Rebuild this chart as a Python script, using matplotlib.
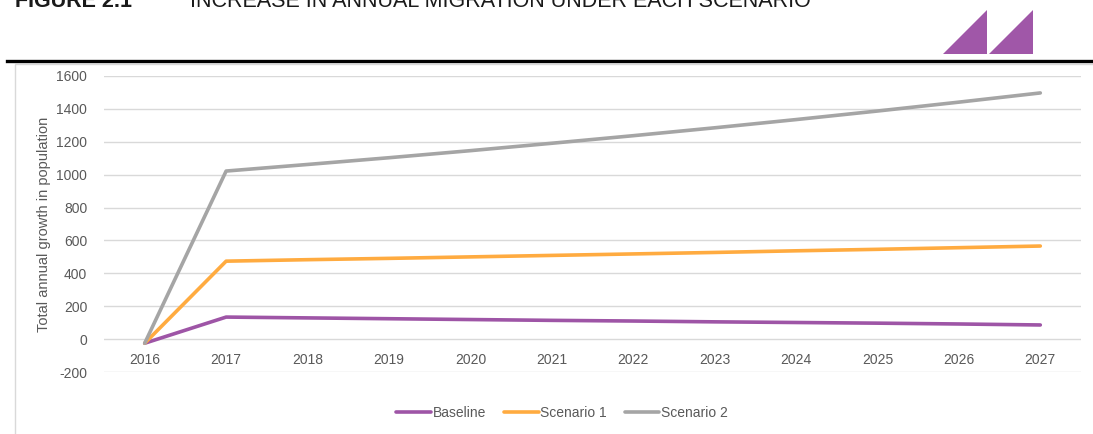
import matplotlib
matplotlib.use("Agg")
import matplotlib.pyplot as plt
from matplotlib.patches import Rectangle, Polygon
from matplotlib.lines import Line2D

plt.rcParams['font.family'] = ['Liberation Sans', 'DejaVu Sans']
plt.rcParams['axes.unicode_minus'] = False

# data
years = [2016, 2017, 2018, 2019, 2020, 2021, 2022, 2023, 2024, 2025, 2026, 2027]
baseline = [-25, 134, 129, 124, 119, 114, 110, 105, 101, 97, 92, 86]
scenario1 = [-25, 474, 483, 491, 500, 509, 518, 527, 537, 546, 556, 566]
scenario2 = [-25, 1022, 1062, 1103, 1146, 1191, 1237, 1285, 1335, 1387, 1441, 1497]
series_names = ['Baseline', 'Scenario 1', 'Scenario 2']
colors = ['#9E55A6', '#FFAB40', '#A5A5A5']

W, H = 1093, 434
fig = plt.figure(figsize=(W / 100, H / 100), dpi=100)

def fx(px):
    return px / W

def fy(py):
    return 1 - py / H

# header
fig.text(fx(15), fy(7), 'FIGURE 2.1', fontsize=15.5, fontweight='bold', color='#1a1a1a', va='baseline')
fig.text(fx(190), fy(7), 'INCREASE IN ANNUAL MIGRATION UNDER EACH SCENARIO', fontsize=15.5,
         color='#1a1a1a', va='baseline')
fig.add_artist(Line2D([fx(7), 1], [fy(61), fy(61)], color='black', lw=2.4))

# logo: two purple triangles
for x0 in (943, 989):
    fig.add_artist(Polygon([(fx(x0), fy(54)), (fx(x0 + 44), fy(10)), (fx(x0 + 44), fy(54))],
                           closed=True, facecolor='#A057A8', edgecolor='none'))

# chart frame
fig.add_artist(Rectangle((fx(15), -0.05), 1.1, fy(64) + 0.05, fill=False, edgecolor='#D9D9D9', lw=1))

ax = fig.add_axes([fx(104), fy(372), fx(1081 - 104), (372 - 76) / H])
for vals, name, c in zip([baseline, scenario1, scenario2], series_names, colors):
    ax.plot(years, vals, color=c, lw=2.6, label=name, solid_capstyle='round')

ax.set_xlim(2015.5, 2027.5)
ax.set_ylim(-200, 1600)
ax.set_yticks(range(-200, 1601, 200))
ax.set_xticks(years)
ax.grid(axis='y', color='#D9D9D9', lw=1)
ax.set_axisbelow(True)
for s in ['top', 'right', 'left']:
    ax.spines[s].set_visible(False)
ax.spines['bottom'].set_position(('data', 0))
ax.spines['bottom'].set_visible(False)
ax.tick_params(length=0, labelsize=10, labelcolor='#595959')
ax.tick_params(axis='x', pad=10)
ax.tick_params(axis='y', pad=12)
ax.set_ylabel('Total annual growth in population', fontsize=10.5, color='#595959', labelpad=4)

fig.legend(loc='center', bbox_to_anchor=(fx(562), fy(413)), ncol=3, frameon=False,
           fontsize=10, handlelength=2.5, handletextpad=0.1, columnspacing=1.3,
           labelcolor='#595959')

fig.savefig('out.png', dpi=100)
